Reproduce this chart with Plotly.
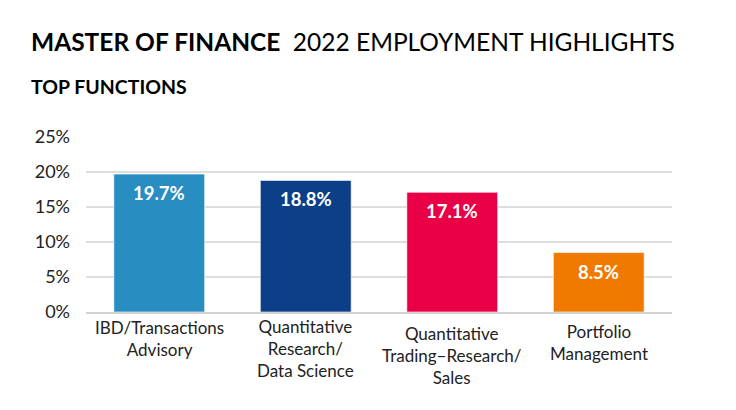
import plotly.graph_objects as go

categories = ["IBD/Transactions Advisory", "Quantitative Research/ Data Science",
              "Quantitative Trading–Research/ Sales", "Portfolio Management"]
category_labels = ["IBD/Transactions<br>Advisory", "Quantitative<br>Research/<br>Data Science",
                   "Quantitative<br>Trading–Research/<br>Sales", "Portfolio<br>Management"]
values = [19.7, 18.8, 17.1, 8.5]
value_labels = ["19.7%", "18.8%", "17.1%", "8.5%"]
colors = ["#288dc1", "#0c3f87", "#ea0046", "#f07a00"]
tick_vals = [0, 5, 10, 15, 20, 25]
tick_labels = ["0%", "5%", "10%", "15%", "20%", "25%"]

FONT = "Lato"
W, H = 736, 410
ML, MR, MT, MB = 86, 64, 137, 98
PW, PH = W - ML - MR, H - MT - MB

fig = go.Figure()
fig.add_trace(go.Bar(
    x=categories, y=values,
    marker=dict(color=colors, line=dict(color="rgba(255,255,255,0.6)", width=1)),
    width=0.62, hoverinfo="skip",
))

# value labels inside bars
for c, v, t in zip(categories, values, value_labels):
    fig.add_annotation(x=c, y=v, text="<b>" + t + "</b>", showarrow=False,
                       xref="x", yref="y", yanchor="middle", yshift=-19,
                       font=dict(family=FONT, size=18.5, color="white"))

# category labels below axis
cat_shift = [-3, -2, -9, -7]
for c, lab, s in zip(categories, category_labels, cat_shift):
    fig.add_annotation(x=c, y=0, text=lab, showarrow=False, xref="x", yref="paper",
                       yanchor="top", yshift=s,
                       font=dict(family=FONT, size=17, color="#222222"))

def px_x(x):
    return (x - ML) / PW

def px_y(y):
    return (H - MB - y) / PH

fig.add_annotation(x=px_x(29), y=px_y(41), xref="paper", yref="paper",
                   text="<b>MASTER OF FINANCE</b>  2022 EMPLOYMENT HIGHLIGHTS",
                   showarrow=False, xanchor="left", yanchor="middle",
                   font=dict(family=FONT, size=24.5, color="#000000"))
fig.add_annotation(x=px_x(29), y=px_y(87), xref="paper", yref="paper",
                   text="<b>TOP FUNCTIONS</b>", showarrow=False,
                   xanchor="left", yanchor="middle",
                   font=dict(family=FONT, size=19.5, color="#000000"))

fig.update_layout(
    width=W, height=H,
    margin=dict(l=ML, r=MR, t=MT, b=MB, autoexpand=False),
    paper_bgcolor="white", plot_bgcolor="white",
    showlegend=False, bargap=0.38,
    font=dict(family=FONT),
    xaxis=dict(showticklabels=False, ticks="", showgrid=False, showline=True,
               linecolor="#d4d4d4", linewidth=1.5, fixedrange=True),
    yaxis=dict(range=[0, 25], tickvals=tick_vals, ticktext=tick_labels,
               showgrid=True, gridcolor="#dedede", gridwidth=1.5,
               zeroline=False, showline=False,
               tickfont=dict(family=FONT, size=18, color="#222222"),
               ticklabelstandoff=15, fixedrange=True),
)

fig.write_html("out.html", config={"displayModeBar": False},
               post_script="document.body.style.margin='0';document.body.style.overflow='hidden';")
